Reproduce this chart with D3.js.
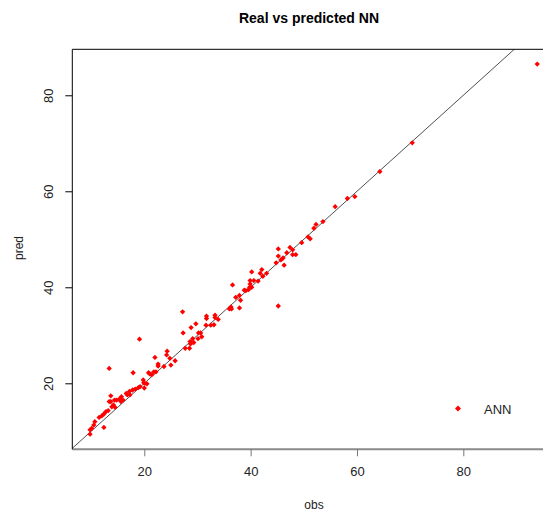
<!DOCTYPE html>
<html>
<head>
<meta charset="utf-8">
<script src="https://cdn.jsdelivr.net/npm/d3@7/dist/d3.min.js"></script>
<style>
  html, body { margin: 0; padding: 0; background: #fff; }
  svg { display: block; font-family: "Liberation Sans", Arial, sans-serif; }
</style>
</head>
<body>
<div id="chart"></div>
<script>
// Observed values and network predictions
const obs = [
  27.2, 31.7, 31.7, 33.3, 33.3, 33.9, 29.7, 28.8, 27.3, 31.6,
  32.5, 33.1, 30.2, 30.6, 29.1, 30.1, 30.8, 28.6, 28.7, 29.3,
  28.5, 27.7, 19.1, 22.0, 24.3, 24.2, 24.8, 25.8, 22.6, 22.6,
  23.7, 25.0, 20.8, 21.1, 21.8, 22.2, 19.8, 19.9, 20.1, 20.5,
  17.9, 13.4, 18.3, 17.2, 17.8, 16.6, 16.8, 15.7, 16.0, 15.3,
  15.6, 14.8, 13.7, 13.7, 14.2, 14.5, 13.9, 13.2, 12.8, 12.4,
  12.0, 11.5, 10.7, 10.5, 12.4, 10.1, 9.8, 9.8, 20.0, 19.2,
  17.3, 14.4, 13.4, 18.9, 21.4,
  55.9, 53.6, 52.3, 51.9, 50.8, 51.2, 49.6, 47.4, 47.9, 48.5,
  47.9, 46.8, 45.2, 45.2, 45.7, 46.1, 44.8, 46.3, 42.1, 41.8,
  40.2, 43.0, 42.3, 39.9, 40.6, 41.4, 39.9, 39.8, 40.2, 38.8,
  39.1, 39.6, 36.6, 37.9, 37.2, 38.1, 36.3, 36.4, 36.0, 37.9,
  45.2, 58.2, 59.6, 64.3, 70.4, 93.9
];
const pred = [
  34.9, 34.0, 33.5, 34.2, 33.7, 33.3, 32.4, 31.6, 30.5, 32.1,
  32.1, 32.2, 30.5, 30.5, 29.3, 29.3, 29.7, 28.7, 28.2, 28.5,
  27.3, 27.3, 29.2, 25.4, 26.7, 25.9, 25.2, 24.7, 24.0, 23.6,
  23.5, 23.8, 22.2, 21.9, 22.4, 22.4, 20.7, 20.1, 20.0, 19.9,
  22.2, 23.1, 18.8, 18.3, 18.6, 17.9, 17.6, 17.2, 16.5, 16.7,
  16.2, 16.5, 17.4, 16.2, 15.5, 15.0, 15.1, 14.3, 14.1, 13.6,
  13.2, 12.9, 12.0, 11.3, 10.8, 10.6, 10.3, 9.4, 19.0, 19.3,
  17.6, 16.5, 16.2, 19.1, 21.8,
  56.8, 53.7, 53.1, 52.3, 50.5, 50.1, 49.3, 48.3, 47.8, 46.8,
  46.8, 47.2, 48.0, 46.5, 45.7, 46.1, 45.1, 44.6, 43.7, 42.9,
  43.2, 42.9, 42.3, 41.4, 41.4, 41.3, 40.7, 40.0, 40.0, 39.4,
  39.3, 39.5, 40.5, 38.3, 37.9, 37.3, 35.9, 35.5, 35.5, 35.7,
  36.1, 58.5, 58.9, 64.1, 70.1, 86.5
];

const xTicks = [20, 40, 60, 80];
const yTicks = [20, 40, 60, 80];
const xLimits = [6.46, 97.3];
const yLimits = [6.25, 89.58];
const legendLabels = ["ANN"];

const W = 543, H = 514;
const plotLeft = 72.3, plotTop = 49.3, plotW = 483, plotH = 400;

const svg = d3.select("#chart").append("svg")
  .attr("width", W).attr("height", H);

const x = d3.scaleLinear().domain(xLimits).range([plotLeft, plotLeft + plotW]);
const y = d3.scaleLinear().domain(yLimits).range([plotTop + plotH, plotTop]);

svg.append("defs").append("clipPath").attr("id", "plotClip")
  .append("rect").attr("x", plotLeft).attr("y", plotTop)
  .attr("width", plotW).attr("height", plotH);

// Title
svg.append("text")
  .attr("x", 309).attr("y", 23)
  .attr("text-anchor", "middle")
  .attr("font-size", 14).attr("font-weight", "bold")
  .attr("fill", "#000")
  .text("Real vs predicted NN");

// Identity line pred = obs
const lo = Math.min(xLimits[0], yLimits[0]), hi = Math.max(xLimits[1], yLimits[1]);
svg.append("line")
  .attr("clip-path", "url(#plotClip)")
  .attr("x1", x(lo)).attr("y1", y(lo))
  .attr("x2", x(hi)).attr("y2", y(hi))
  .attr("stroke", "#222").attr("stroke-width", 0.8);

// Points (filled diamonds)
const diamond = d3.symbol().type(d3.symbolSquare).size(14);
svg.append("g").attr("clip-path", "url(#plotClip)")
  .selectAll("path").data(d3.range(obs.length)).join("path")
  .attr("d", diamond)
  .attr("transform", i => `translate(${x(obs[i])},${y(pred[i])}) rotate(45)`)
  .attr("fill", "#ff0000");

// Box: top side
svg.append("line").attr("x1", plotLeft).attr("x2", W + 20)
  .attr("y1", plotTop).attr("y2", plotTop)
  .attr("stroke", "#000").attr("stroke-width", 1);

// X axis
const xAxis = d3.axisBottom(x).tickValues(xTicks).tickSize(7).tickPadding(10)
  .tickFormat(d3.format("d"));
const gx = svg.append("g").attr("transform", `translate(0,${plotTop + plotH})`).call(xAxis);
gx.select(".domain").attr("stroke", "#8a8a8a").attr("stroke-width", 2)
  .attr("d", `M${plotLeft},0H${W + 20}`);
gx.selectAll(".tick line").attr("stroke", "#777");
gx.selectAll(".tick text").attr("font-size", 13).attr("fill", "#222")
  .attr("font-family", "Liberation Sans, Arial, sans-serif");

// Y axis with rotated labels
const yAxis = d3.axisLeft(y).tickValues(yTicks).tickSize(7).tickFormat(d3.format("d"));
const gy = svg.append("g").attr("transform", `translate(${plotLeft},0)`).call(yAxis);
gy.select(".domain").attr("stroke", "#000").attr("stroke-width", 1)
  .attr("d", `M0,${plotTop}V${plotTop + plotH}`);
gy.selectAll(".tick line").attr("stroke", "#000");
gy.selectAll(".tick text")
  .attr("font-size", 13).attr("fill", "#222")
  .attr("font-family", "Liberation Sans, Arial, sans-serif")
  .attr("text-anchor", "middle")
  .attr("x", null).attr("dy", null)
  .attr("transform", "translate(-19,0) rotate(-90)");

// Axis titles
svg.append("text")
  .attr("x", 314).attr("y", 509)
  .attr("text-anchor", "middle").attr("font-size", 12).attr("fill", "#222")
  .text("obs");
svg.append("text")
  .attr("transform", "translate(23,248) rotate(-90)")
  .attr("text-anchor", "middle").attr("font-size", 12).attr("fill", "#222")
  .text("pred");

// Legend
const lg = svg.append("g").attr("transform", "translate(458,408.5)");
lg.append("path").attr("d", d3.symbol().type(d3.symbolSquare).size(18))
  .attr("transform", "rotate(45)").attr("fill", "#ff0000");
lg.append("text").attr("x", 26).attr("y", 5)
  .attr("font-size", 13).attr("fill", "#222")
  .text(legendLabels[0]);
</script>
</body>
</html>
